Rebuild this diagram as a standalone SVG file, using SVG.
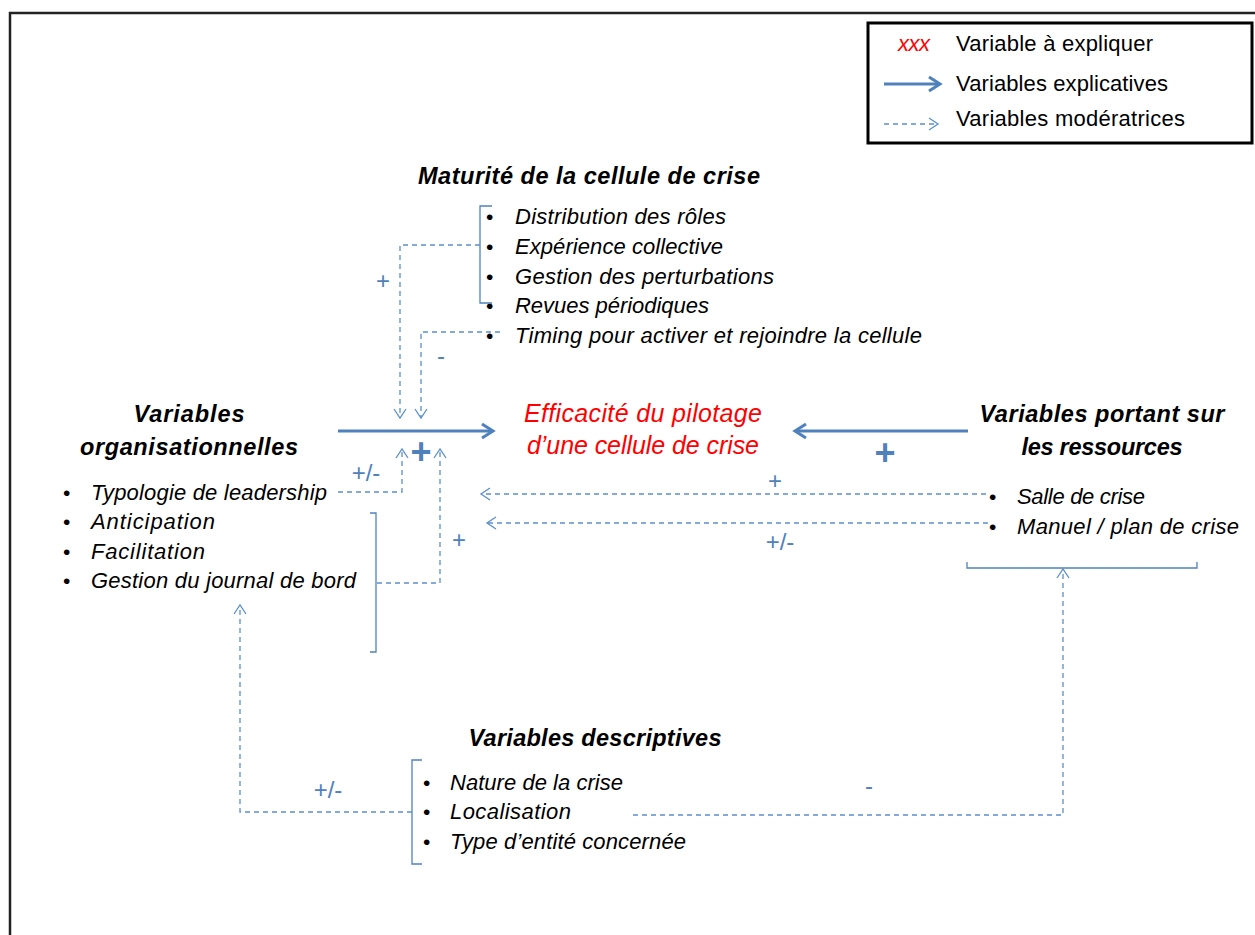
<svg xmlns="http://www.w3.org/2000/svg" width="1255" height="935" viewBox="0 0 1255 935">
<defs>
<style>
text{font-family:"Liberation Sans",Arial,sans-serif;}
.t{font-size:23.5px;font-weight:bold;font-style:italic;fill:#000;text-anchor:middle;}
.b{font-size:22px;font-style:italic;fill:#000;}
.dot{font-size:21px;fill:#000;}
.red{font-size:25px;font-style:italic;fill:#ff0000;text-anchor:middle;}
.lg{font-size:22px;fill:#000;}
.sg{font-size:24px;fill:#4F81BD;text-anchor:middle;}
.big{font-size:36px;font-weight:bold;fill:#4F81BD;text-anchor:middle;}
.solid{stroke:#4F81BD;stroke-width:3;fill:none;}
.dash{stroke:#5B8FCC;stroke-width:1.3;fill:none;stroke-dasharray:5,4;}
.br{stroke:#4F81BD;stroke-width:1.3;fill:none;}
</style>
<marker id="ah" markerUnits="userSpaceOnUse" markerWidth="16" markerHeight="18" refX="13" refY="9" orient="auto">
<path d="M2,2 L13,9 L2,16" fill="none" stroke="#4F81BD" stroke-width="3"/>
</marker>
<marker id="ad" markerUnits="userSpaceOnUse" markerWidth="12" markerHeight="14" refX="10" refY="7" orient="auto">
<path d="M1,1 L10,7 L1,13" fill="none" stroke="#5B8FCC" stroke-width="1.3"/>
</marker>
</defs>
<rect width="1255" height="935" fill="#fff"/>
<path d="M10,960 V13 H1270" fill="none" stroke="#222" stroke-width="2.5"/>

<g id="legend">
<rect x="868" y="23" width="384" height="120" fill="#fff" stroke="#000" stroke-width="3"/>
<text x="914" y="51" font-size="22" font-style="italic" fill="#ff0000" text-anchor="middle" textLength="32">xxx</text>
<text class="lg" x="956" y="51" textLength="197">Variable à expliquer</text>
<line class="solid" x1="884" y1="84" x2="940" y2="84" marker-end="url(#ah)"/>
<text class="lg" x="956" y="91" textLength="212">Variables explicatives</text>
<line class="dash" x1="884" y1="124" x2="938" y2="124" marker-end="url(#ad)"/>
<text class="lg" x="956" y="126" textLength="229">Variables modératrices</text>
</g>

<g id="maturite">
<text class="t" x="589" y="184" textLength="342">Maturité de la cellule de crise</text>
<g class="dot"><text x="486" y="224">•</text><text x="486" y="254">•</text><text x="486" y="284">•</text><text x="486" y="313">•</text><text x="486" y="343">•</text></g>
<text class="b" x="515" y="224" textLength="211">Distribution des rôles</text>
<text class="b" x="515" y="254" textLength="208">Expérience collective</text>
<text class="b" x="515" y="284" textLength="259">Gestion des perturbations</text>
<text class="b" x="515" y="313" textLength="194">Revues périodiques</text>
<text class="b" x="515" y="343" textLength="407">Timing pour activer et rejoindre la cellule</text>
<path class="br" d="M492,206 H480 V303 H492"/>
</g>

<g id="efficacite">
<text class="red" x="643" y="422" textLength="238">Efficacité du pilotage</text>
<text class="red" x="643" y="454" textLength="232">d’une cellule de crise</text>
</g>

<g id="organisationnelles">
<text class="t" x="189" y="422" textLength="111">Variables</text>
<text class="t" x="189" y="455" textLength="218">organisationnelles</text>
<g class="dot"><text x="63" y="500">•</text><text x="63" y="529">•</text><text x="63" y="559">•</text><text x="63" y="588">•</text></g>
<text class="b" x="91" y="500" textLength="236">Typologie de leadership</text>
<text class="b" x="91" y="529" textLength="124">Anticipation</text>
<text class="b" x="91" y="559" textLength="114">Facilitation</text>
<text class="b" x="91" y="588" textLength="265">Gestion du journal de bord</text>
<path class="br" d="M370,513 H376 V652 H370"/>
</g>

<g id="ressources">
<text class="t" x="1102" y="422" textLength="245">Variables portant sur</text>
<text class="t" x="1102" y="455" textLength="161">les ressources</text>
<g class="dot"><text x="989" y="504">•</text><text x="989" y="534">•</text></g>
<text class="b" x="1017" y="504" textLength="128">Salle de crise</text>
<text class="b" x="1017" y="534" textLength="222">Manuel / plan de crise</text>
<path class="br" d="M967,562 V568 H1197 V562"/>
</g>

<g id="descriptives">
<text class="t" x="595" y="746" textLength="253">Variables descriptives</text>
<g class="dot"><text x="423" y="790">•</text><text x="423" y="819">•</text><text x="423" y="849">•</text></g>
<text class="b" x="450" y="790" textLength="173">Nature de la crise</text>
<text class="b" x="450" y="819" textLength="121">Localisation</text>
<text class="b" x="450" y="849" textLength="236">Type d’entité concernée</text>
<path class="br" d="M422,760 H412 V864 H422"/>
</g>

<g id="connectors">
<line class="solid" x1="338" y1="431" x2="493" y2="431" marker-end="url(#ah)"/>
<line class="solid" x1="968" y1="431" x2="795" y2="431" marker-end="url(#ah)"/>
<path class="dash" d="M480,245 H400 V418" marker-end="url(#ad)"/>
<path class="dash" d="M500,332 H421 V418" marker-end="url(#ad)"/>
<path class="dash" d="M338,492 H402 V449" marker-end="url(#ad)"/>
<path class="dash" d="M377,583 H440 V449" marker-end="url(#ad)"/>
<line class="dash" x1="986" y1="494" x2="481" y2="494" marker-end="url(#ad)"/>
<line class="dash" x1="988" y1="523" x2="487" y2="523" marker-end="url(#ad)"/>
<path class="dash" d="M633,815 H1063 V569" marker-end="url(#ad)"/>
<path class="dash" d="M412,812 H240 V605" marker-end="url(#ad)"/>
<text class="sg" x="383" y="289">+</text>
<text class="sg" x="441" y="364">-</text>
<text class="big" x="421" y="464">+</text>
<text class="sg" x="366" y="481" font-size="25">+/-</text>
<text class="sg" x="459" y="548">+</text>
<text class="big" x="885" y="465">+</text>
<text class="sg" x="775" y="489">+</text>
<text class="sg" x="780" y="550" font-size="25">+/-</text>
<text class="sg" x="869" y="794">-</text>
<text class="sg" x="328" y="798" font-size="25">+/-</text>
</g>
</svg>
